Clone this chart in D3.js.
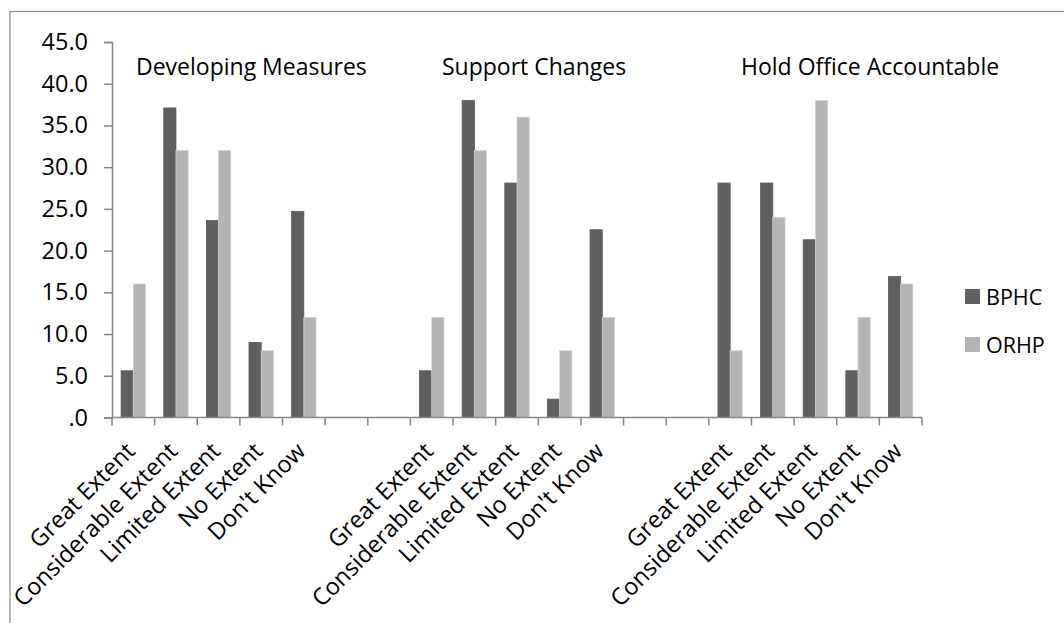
<!DOCTYPE html>
<html>
<head>
<meta charset="utf-8">
<script src="https://cdn.jsdelivr.net/npm/d3@7"></script>
<style>
  html, body { margin: 0; padding: 0; background: #fff; }
  svg { display: block; }
  text { font-family: "Open Sans", "Noto Sans", sans-serif; fill: #000; }
</style>
</head>
<body>
<svg id="chart" width="1064" height="623"></svg>
<script>
// Survey responses (%) by question group
const groups = ["Developing Measures", "Support Changes", "Hold Office Accountable"];
const categories = ["Great Extent", "Considerable Extent", "Limited Extent", "No Extent", "Don't Know"];
const series = ["BPHC", "ORHP"];

const bphcDeveloping = [5.6, 37.1, 23.6, 9.0, 24.7];
const orhpDeveloping = [16.0, 32.0, 32.0, 8.0, 12.0];
const bphcSupport = [5.6, 38.0, 28.1, 2.2, 22.5];
const orhpSupport = [12.0, 32.0, 36.0, 8.0, 12.0];
const bphcHold = [28.1, 28.1, 21.3, 5.6, 16.9];
const orhpHold = [8.0, 24.0, 38.0, 12.0, 16.0];

const yTicks = [0, 5, 10, 15, 20, 25, 30, 35, 40, 45];
const emptySlotsBetweenGroups = 2;

const bphcByGroup = [bphcDeveloping, bphcSupport, bphcHold];
const orhpByGroup = [orhpDeveloping, orhpSupport, orhpHold];

// Build the slot sequence: each group's categories followed by blank spacer slots
const slots = [];
const rows = [];
groups.forEach((g, gi) => {
  categories.forEach((c, ci) => {
    const key = gi + "|" + c;
    slots.push({ key, label: c });
    rows.push({ key, group: g, category: c,
      values: [ { s: "BPHC", v: bphcByGroup[gi][ci] }, { s: "ORHP", v: orhpByGroup[gi][ci] } ] });
  });
  if (gi < groups.length - 1) {
    for (let k = 0; k < emptySlotsBetweenGroups; k++) slots.push({ key: gi + "|blank" + k, label: "" });
  }
});

const colors = { BPHC: "#606060", ORHP: "#b3b3b3" };
const axisColor = "#868686";

const svg = d3.select("#chart");

// Chart frame
svg.append("rect")
  .attr("x", 10).attr("y", 11.5)
  .attr("width", 1100).attr("height", 700)
  .attr("fill", "none").attr("stroke", "#8c8c8c").attr("stroke-width", 1.2);

const plot = { left: 112, right: 922, top: 42, bottom: 417.5 };

const x = d3.scaleBand()
  .domain(slots.map(d => d.key))
  .range([plot.left, plot.right])
  .paddingInner(0).paddingOuter(0);

const xs = d3.scaleBand()
  .domain(series)
  .range([0, x.bandwidth()])
  .paddingInner(0).paddingOuter(0.747);

const y = d3.scaleLinear().domain([0, 45]).range([plot.bottom, plot.top]);

// Bars
const g = svg.append("g");
g.selectAll("g.cat")
  .data(rows)
  .join("g")
  .attr("class", "cat")
  .attr("transform", d => `translate(${x(d.key)},0)`)
  .selectAll("rect")
  .data(d => d.values)
  .join("rect")
  .attr("x", d => xs(d.s))
  .attr("width", xs.bandwidth())
  .attr("y", d => y(d.v))
  .attr("height", d => y(0) - y(d.v))
  .attr("fill", d => colors[d.s])
  .attr("stroke", d => d.s === "ORHP" ? "#d4d4d4" : "#5a5a5a")
  .attr("stroke-width", 0.8);

// Y axis
const yAxis = d3.axisLeft(y)
  .tickValues(yTicks)
  .tickSize(8)
  .tickPadding(16)
  .tickFormat(d => d === 0 ? ".0" : d3.format(".1f")(d));

const ya = svg.append("g")
  .attr("transform", `translate(${plot.left},0)`)
  .call(yAxis);
ya.select(".domain").attr("stroke", axisColor).attr("stroke-width", 1.5);
ya.selectAll(".tick line").attr("stroke", axisColor).attr("stroke-width", 1.5);
ya.selectAll(".tick text")
  .style("font-size", "23.5px")
  .style("font-family", "'Open Sans', 'Noto Sans', sans-serif")
  .attr("fill", "#000");

// X axis: ticks at slot boundaries, labels drawn separately
const boundaries = slots.map(d => x(d.key)).concat([plot.right]);
const xa = svg.append("g");
xa.append("line")
  .attr("x1", plot.left).attr("x2", plot.right)
  .attr("y1", plot.bottom).attr("y2", plot.bottom)
  .attr("stroke", axisColor).attr("stroke-width", 1.5);
xa.selectAll("line.tick")
  .data(boundaries)
  .join("line")
  .attr("class", "tick")
  .attr("x1", d => d).attr("x2", d => d)
  .attr("y1", plot.bottom).attr("y2", plot.bottom + 8)
  .attr("stroke", axisColor).attr("stroke-width", 1.5);

xa.selectAll("text.xlabel")
  .data(slots.filter(d => d.label))
  .join("text")
  .attr("class", "xlabel")
  .attr("text-anchor", "end")
  .attr("transform", d => `translate(${x(d.key) + x.bandwidth() / 2 + 3},${plot.bottom + 35}) rotate(-45)`)
  .style("font-size", "23.5px")
  .text(d => d.label);

// Group titles (left-aligned text boxes above each group)
const titleX = [136, 442, 741];
svg.selectAll("text.gtitle")
  .data(groups)
  .join("text")
  .attr("class", "gtitle")
  .attr("x", (d, i) => titleX[i])
  .attr("y", 75)
  .style("font-size", "23px")
  .text(d => d);

// Legend
const legend = svg.append("g").attr("transform", "translate(965,289)");
const li = legend.selectAll("g")
  .data(series)
  .join("g")
  .attr("transform", (d, i) => `translate(0,${i * 48})`);
li.append("rect")
  .attr("width", 15).attr("height", 15)
  .attr("fill", d => colors[d]);
li.append("text")
  .attr("x", 21).attr("y", 15.5)
  .style("font-size", "21.5px")
  .text(d => d);
</script>
</body>
</html>
